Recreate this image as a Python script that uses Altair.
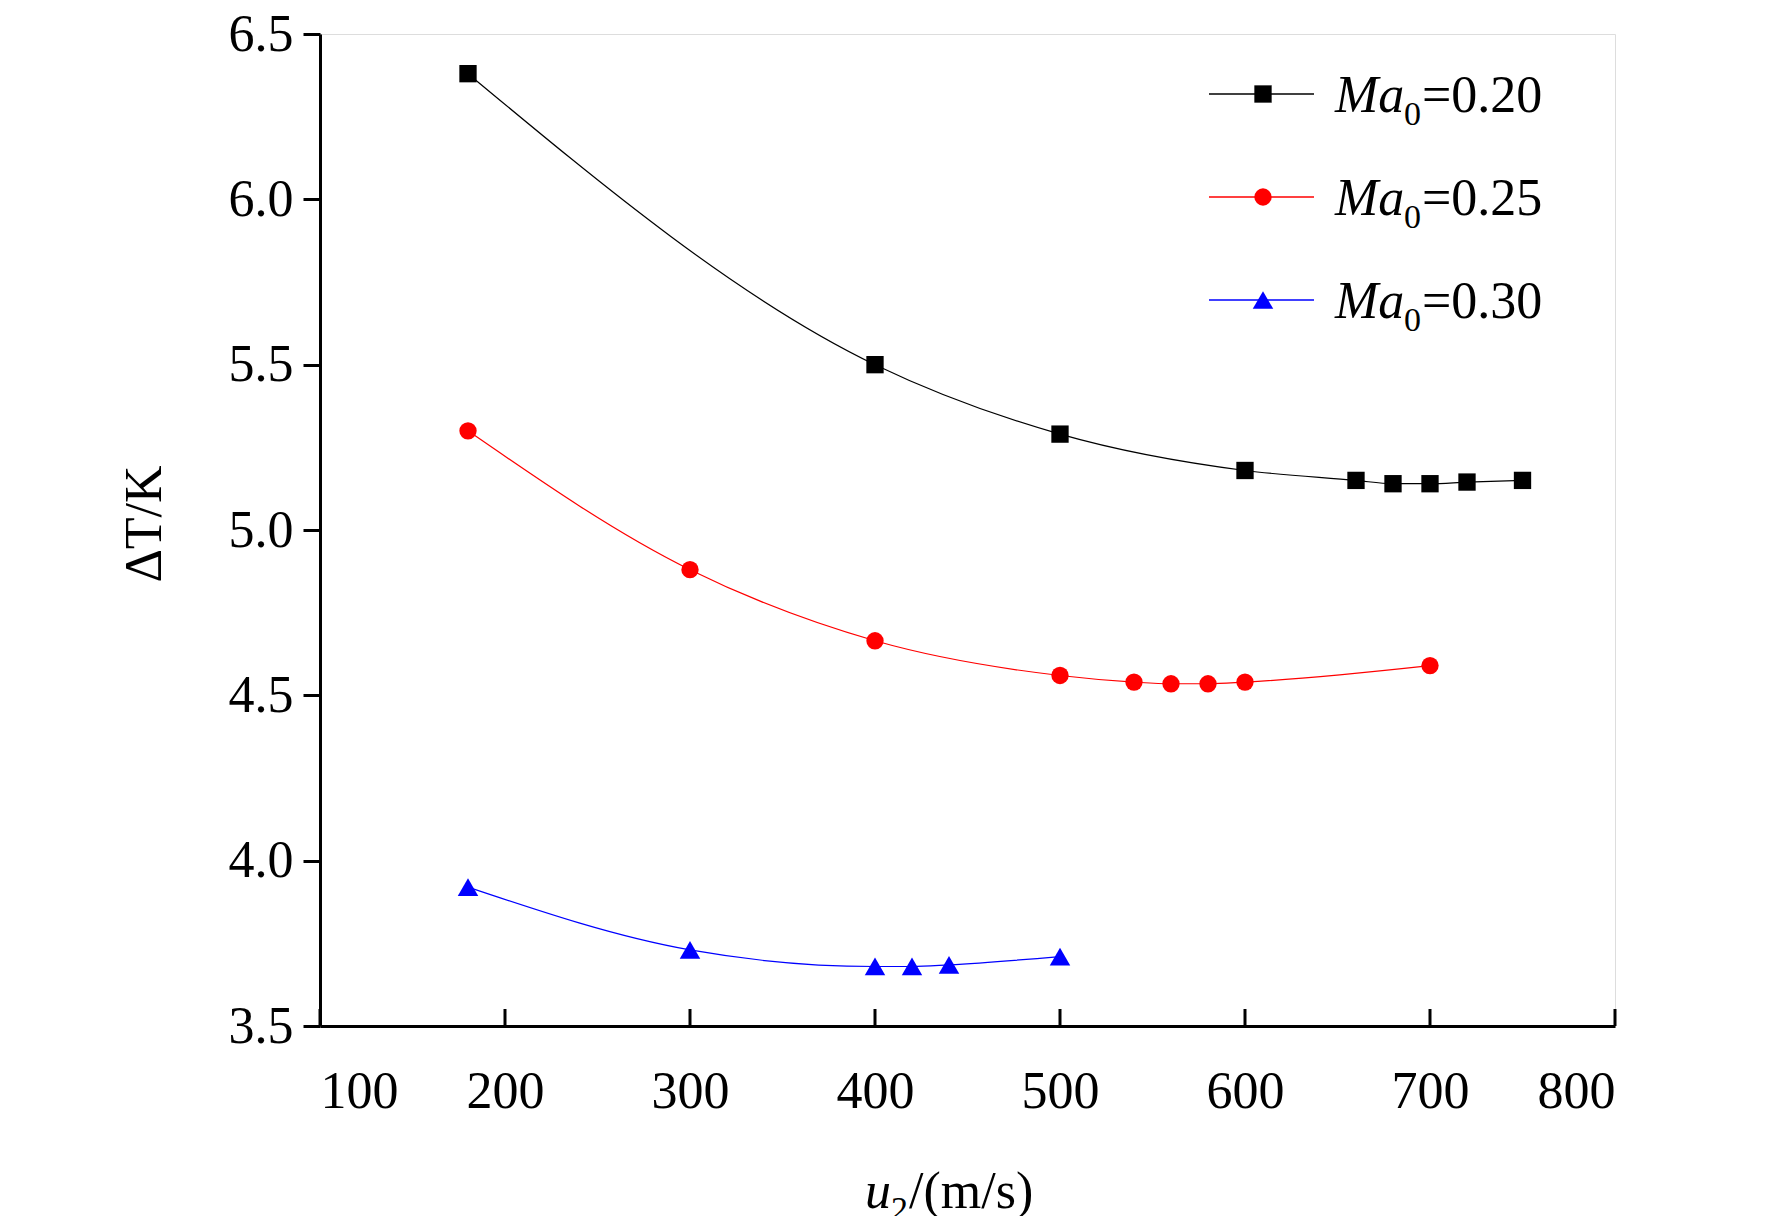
import altair as alt
import pandas as pd

u_020 = [180, 400, 500, 600, 660, 680, 700, 720, 750]
dt_020 = [6.38, 5.50, 5.29, 5.18, 5.15, 5.14, 5.14, 5.145, 5.15]
u_025 = [180, 300, 400, 500, 540, 560, 580, 600, 700]
dt_025 = [5.30, 4.88, 4.665, 4.56, 4.54, 4.535, 4.535, 4.54, 4.59]
u_030 = [180, 300, 400, 420, 440, 500]
dt_030 = [3.92, 3.73, 3.68, 3.68, 3.685, 3.71]
x_ticks = [100, 200, 300, 400, 500, 600, 700, 800]
y_ticks = [3.5, 4.0, 4.5, 5.0, 5.5, 6.0, 6.5]

W, H = 1295, 992
FONT = "Liberation Serif"
xs = alt.Scale(domain=[100, 800], nice=False)
ys = alt.Scale(domain=[3.5, 6.5], nice=False)

series = [
    (u_020, dt_020, "black", "square", "0.20", 300),
    (u_025, dt_025, "#ff0000", "circle", "0.25", 300),
    (u_030, dt_030, "#0000ff", "triangle-up", "0.30", 420),
]

layers = []
for i, (u, dt, col, shp, lab, sz) in enumerate(series):
    df = pd.DataFrame({"u": u, "dt": dt})
    enc = dict(
        x=alt.X("u:Q", scale=xs, axis=alt.Axis(values=x_ticks, format="d", tickSize=0, labelPadding=40,
                                              labelFont=FONT, labelFontSize=52, labelColor="black",
                                              domainColor="black", domainWidth=3, grid=False, title=None)),
        y=alt.Y("dt:Q", scale=ys, axis=alt.Axis(values=y_ticks, format=".1f", tickSize=17, tickWidth=3,
                                               tickColor="black", labelPadding=10, labelFont=FONT,
                                               labelFontSize=52, labelColor="black", domainColor="black",
                                               domainWidth=3, grid=False, title=None)),
    )
    layers.append(alt.Chart(df).mark_line(color=col, strokeWidth=1.2, interpolate="monotone").encode(**enc))
    layers.append(alt.Chart(df).mark_point(shape=shp, filled=True, color=col, size=sz, opacity=1).encode(**enc))

    # legend entry
    ry = 60 + i * 103
    leg = pd.DataFrame({"a": [0]})
    layers.append(alt.Chart(leg).mark_rule(color=col, strokeWidth=1.5).encode(
        x=alt.value(889), x2=alt.value(994), y=alt.value(ry)))
    layers.append(alt.Chart(leg).mark_point(shape=shp, filled=True, color=col, size=sz, opacity=1).encode(
        x=alt.value(943), y=alt.value(ry)))
    layers.append(alt.Chart(leg).mark_text(text="Ma", font=FONT, fontSize=52, fontStyle="italic",
                                           align="left", baseline="alphabetic", color="black").encode(
        x=alt.value(1015), y=alt.value(ry + 18)))
    layers.append(alt.Chart(leg).mark_text(text="0", font=FONT, fontSize=34, align="left",
                                           baseline="alphabetic", color="black").encode(
        x=alt.value(1084), y=alt.value(ry + 31)))
    layers.append(alt.Chart(leg).mark_text(text="=" + lab, font=FONT, fontSize=52, align="left",
                                           baseline="alphabetic", color="black").encode(
        x=alt.value(1102), y=alt.value(ry + 18)))

# inward x ticks
tk = pd.DataFrame({"t": x_ticks})
layers.append(alt.Chart(tk).mark_rule(color="black", strokeWidth=3).encode(
    x=alt.X("t:Q", scale=xs), y=alt.value(H), y2=alt.value(H - 17)))

# axis titles
one = pd.DataFrame({"a": [0]})
layers.append(alt.Chart(one).mark_text(text="ΔT/K", font=FONT, fontSize=52, angle=270,
                                       align="center", baseline="middle", color="black").encode(
    x=alt.value(-175), y=alt.value(490)))
layers.append(alt.Chart(one).mark_text(text="u", font=FONT, fontSize=52, fontStyle="italic",
                                       align="left", baseline="alphabetic", color="black").encode(
    x=alt.value(545), y=alt.value(1174)))
layers.append(alt.Chart(one).mark_text(text="2", font=FONT, fontSize=34, align="left",
                                       baseline="alphabetic", color="black").encode(
    x=alt.value(571), y=alt.value(1186)))
layers.append(alt.Chart(one).mark_text(text="/(m/s)", font=FONT, fontSize=52, align="left",
                                       baseline="alphabetic", color="black").encode(
    x=alt.value(589), y=alt.value(1174)))

chart = alt.layer(*layers).properties(
    width=W, height=H, autosize=alt.AutoSizeParams(type="none"),
    padding={"left": 312, "top": 26, "right": 140, "bottom": 190},
).configure_view(strokeWidth=0).configure(background="white")

chart.save("out.html", embed_options={"renderer": "svg", "actions": False})
